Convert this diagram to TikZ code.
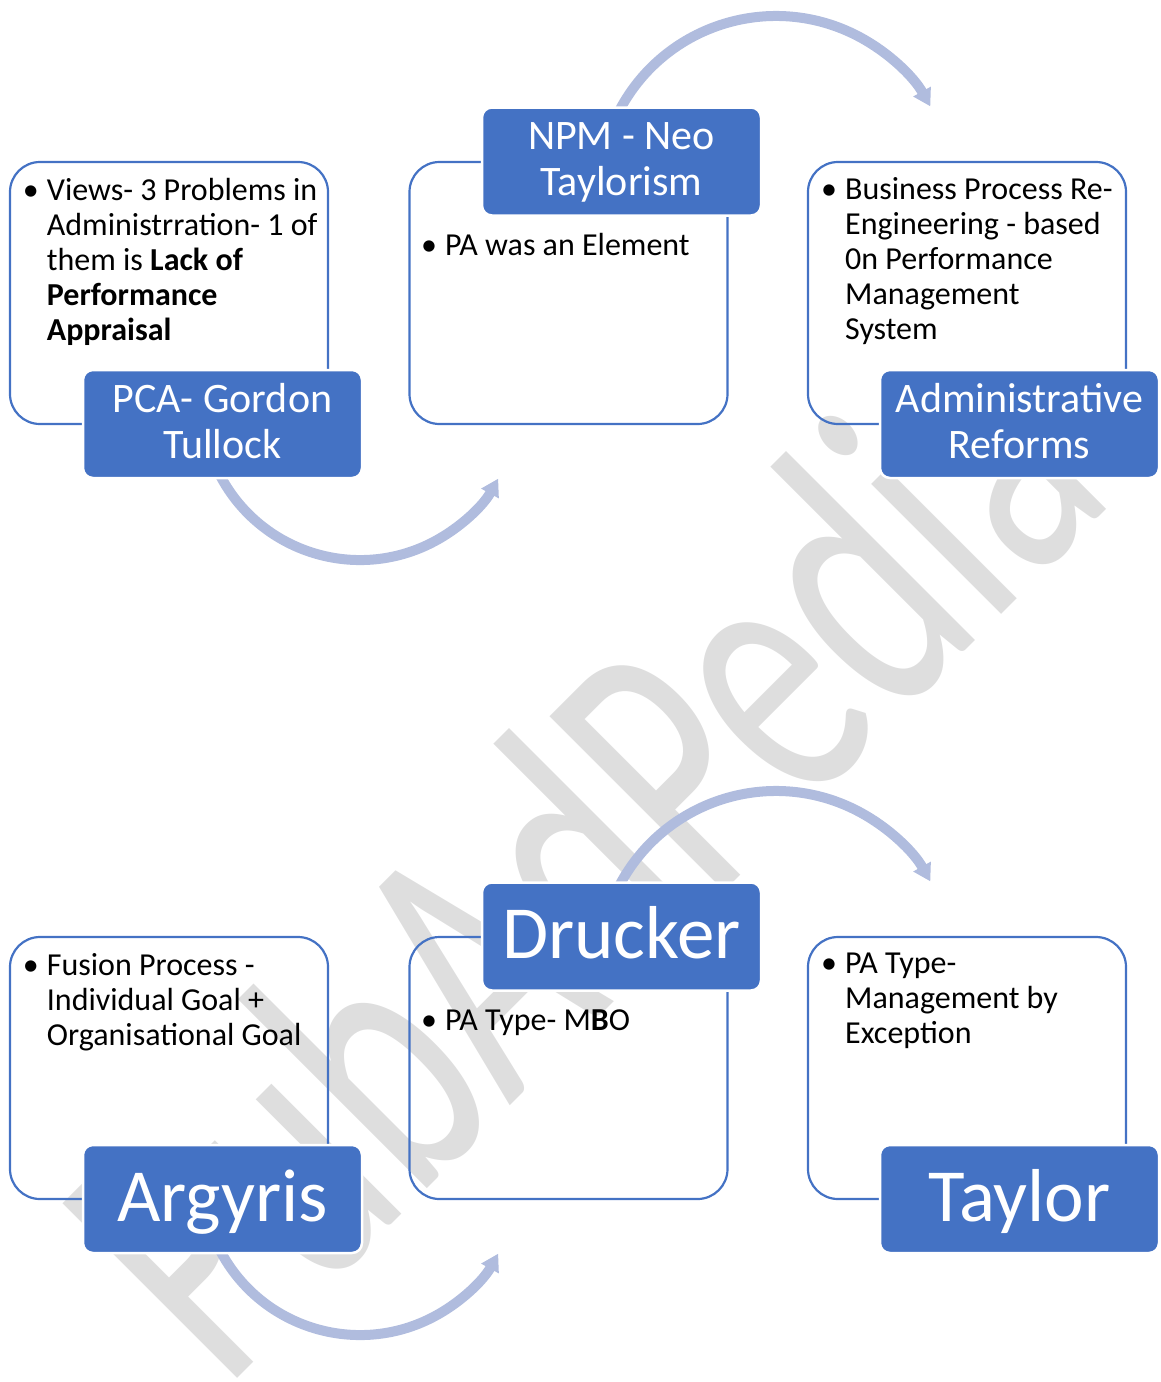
\documentclass[tikz,border=0pt]{standalone}
\usepackage{fontspec}
\setmainfont{Carlito}
\usetikzlibrary{arrows.meta}
\definecolor{accent}{HTML}{4472C4}
\definecolor{flowc}{HTML}{B0BCDE}
\definecolor{wmark}{HTML}{DEDEDE}

\begin{document}
\begin{tikzpicture}[x=1pt,y=1pt,
  card/.style={draw=accent, line width=2.2pt, rounded corners=30pt,
    minimum width=318pt, minimum height=262pt, inner sep=0pt},
  tag/.style={fill=accent, draw=white, line width=2.5pt, rounded corners=10pt,
    text=white, minimum width=279pt, minimum height=108pt, inner sep=0pt, align=center},
  tagtwo/.style={tag, font=\fontsize{42}{46}\selectfont, text height=76pt, text depth=8pt},
  tagbig/.style={tag, font=\fontsize{75}{80}\selectfont, text height=44pt, text depth=0pt},
  body/.style={anchor=base west, inner sep=0pt, font=\fontsize{32}{35}\selectfont},
  flow/.style={draw=flowc, line width=10pt, -{Triangle[width=19pt,length=17pt]}},
  wmk/.style={anchor=base west, rotate=45, xscale=0.67, inner sep=0pt, text=wmark,
    font=\fontsize{385}{385}\selectfont},
]
\useasboundingbox (0,0) rectangle (1160,-1382);

% faint diagonal watermark behind everything
\begin{scope}
  \clip (0,0) rectangle (1160,-1382);
  \node[wmk] (wm) at (224,-1392) {PubAdPedia};
\end{scope}

% outlined cards
\node[card] (c1) at (169,-293) {};
\node[card] (c2) at (568.5,-293) {};
\node[card] (c3) at (967,-293) {};
\node[card] (c4) at (169,-1068) {};
\node[card] (c5) at (568.5,-1068) {};
\node[card] (c6) at (967,-1068) {};

% card contents
\node[body] (t1) at (22.7,-200) {\begin{tabular}[t]{@{}l@{}l@{}}
  \makebox[24pt][l]{•} & Views- 3 Problems in\\
  & Administrration- 1 of\\
  & them is \textbf{Lack of}\\
  & \textbf{Performance}\\
  & \textbf{Appraisal}\end{tabular}};
\node[body] (t2) at (421,-255) {\begin{tabular}[t]{@{}l@{}l@{}}
  \makebox[24pt][l]{•} & PA was an Element\end{tabular}};
\node[body] (t3) at (821,-199) {\begin{tabular}[t]{@{}l@{}l@{}}
  \makebox[24pt][l]{•} & Business Process Re-\\
  & Engineering - based\\
  & 0n Performance\\
  & Management\\
  & System\end{tabular}};
\node[body] (t4) at (22.7,-975) {\begin{tabular}[t]{@{}l@{}l@{}}
  \makebox[24pt][l]{•} & Fusion Process -\\
  & Individual Goal +\\
  & Organisational Goal\end{tabular}};
\node[body] (t5) at (421,-1030) {\begin{tabular}[t]{@{}l@{}l@{}}
  \makebox[24pt][l]{•} & PA Type- M\textbf{B}O\end{tabular}};
\node[body] (t6) at (821,-973) {\begin{tabular}[t]{@{}l@{}l@{}}
  \makebox[24pt][l]{•} & PA Type-\\
  & Management by\\
  & Exception\end{tabular}};

% tag centres, used by the arcs before the tags are drawn over them
\path (222.5,-424) coordinate (p1) (621.5,-161.5) coordinate (p2)
      (222.5,-1199) coordinate (p4) (621.5,-936.5) coordinate (p5);

% curved flow arrows
\draw[flow] ([xshift=-2pt,yshift=1.8pt]p1 |- 0,-478) arc[start angle=208, end angle=331, radius=158pt];
\draw[flow] ([xshift=-1.8pt,yshift=-2.4pt]p2 |- 0,-107.5) arc[start angle=152, end angle=29.3, radius=177pt];
\draw[flow] ([xshift=-2pt,yshift=1.8pt]p4 |- 0,-1253) arc[start angle=208, end angle=331, radius=158pt];
\draw[flow] ([xshift=-1.8pt,yshift=-2.4pt]p5 |- 0,-882.5) arc[start angle=152, end angle=29.3, radius=177pt];

\node[tagtwo] (l1) at (p1) {PCA- Gordon\\Tullock};
\node[tagtwo] (l2) at (p2) {NPM - Neo\\Taylorism};
\node[tagtwo] (l3) at (1019.5,-424) {Administrative\\Reforms};
\node[tagbig] (l4) at (p4) {Argyris};
\node[tagbig] (l5) at (p5) {Drucker};
\node[tagbig] (l6) at (1019.5,-1199) {Taylor};
\end{tikzpicture}
\end{document}
